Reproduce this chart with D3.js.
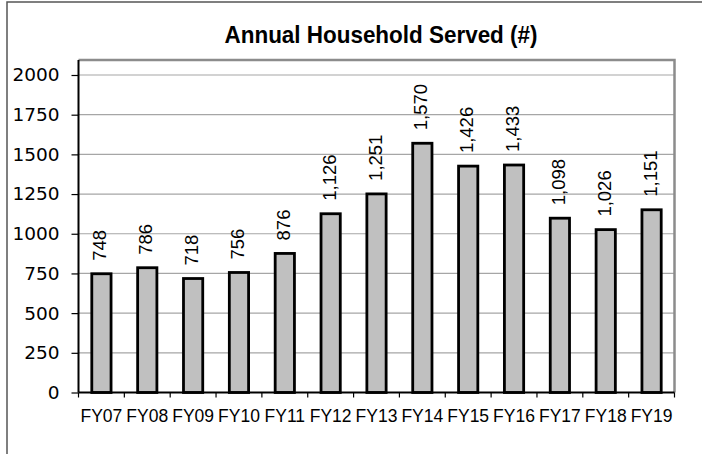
<!DOCTYPE html>
<html>
<head>
<meta charset="utf-8">
<script src="https://cdn.jsdelivr.net/npm/d3@7"></script>
<style>
  body { margin: 0; background: #fff; }
  svg { display: block; }
</style>
</head>
<body>
<svg id="chart" width="702" height="454"></svg>
<script>
// data
var years = ["FY07", "FY08", "FY09", "FY10", "FY11", "FY12", "FY13",
             "FY14", "FY15", "FY16", "FY17", "FY18", "FY19"];
var households = [748, 786, 718, 756, 876, 1126, 1251, 1570, 1426, 1433, 1098, 1026, 1151];
var yTicks = [0, 250, 500, 750, 1000, 1250, 1500, 1750, 2000];
var chartTitle = "Annual Household Served (#)";

(function(){
    var svg = d3.select("#chart");

    // plot area box
    var left = 78.5, right = 674.5, top = 60, bottom = 392.5;

    var x = d3.scaleBand()
        .domain(years)
        .range([left, right])
        .paddingInner(0.58)
        .paddingOuter(0.29);

    var y = d3.scaleLinear()
        .domain([0, 2000])
        .range([bottom, 75]);

    // outer chart frame (runs off the right/bottom of the crop)
    svg.append("rect")
        .attr("x", 7).attr("y", 2)
        .attr("width", 760).attr("height", 520)
        .style("fill", "none")
        .style("stroke", "#555")
        .style("stroke-width", 1.5);

    svg.append("text")
        .attr("x", 381).attr("y", 43)
        .attr("text-anchor", "middle")
        .style("font-family", "'Liberation Sans', Arial, sans-serif")
        .style("font-weight", "bold")
        .style("font-size", "24px")
        .attr("textLength", 313)
        .attr("lengthAdjust", "spacingAndGlyphs")
        .text(chartTitle);

    // gridlines
    svg.append("g")
        .selectAll("line")
        .data(yTicks.filter(function(d){ return d > 0; }))
        .enter().append("line")
        .attr("x1", left).attr("x2", right)
        .attr("y1", function(d){ return y(d); })
        .attr("y2", function(d){ return y(d); })
        .style("stroke", "#a6a6a6")
        .style("stroke-width", 1.2);

    // plot border, top and right are grey
    svg.append("path")
        .attr("d", "M" + left + "," + top + "H" + right + "V" + bottom)
        .style("fill", "none")
        .style("stroke", "#8c8c8c")
        .style("stroke-width", 2.5);

    // bars
    svg.append("g")
        .selectAll("rect")
        .data(households)
        .enter().append("rect")
        .attr("x", function(d, i){ return x(years[i]); })
        .attr("y", function(d){ return y(d); })
        .attr("width", x.bandwidth())
        .attr("height", function(d){ return y(0) - y(d); })
        .style("fill", "#c0c0c0")
        .style("stroke", "#000")
        .style("stroke-width", 2.8);

    // value labels, rotated
    var fmt = d3.format(",");
    svg.append("g")
        .selectAll("text")
        .data(households)
        .enter().append("text")
        .attr("transform", function(d, i){
            var cx = x(years[i]) + x.bandwidth() / 2;
            return "translate(" + cx + "," + (y(d) - 13) + ") rotate(-90)";
        })
        .attr("dy", 5)
        .style("font-family", "'Liberation Sans', Arial, sans-serif")
        .style("font-size", "18.5px")
        .text(function(d){ return fmt(d); });

    // y axis
    var yAxis = d3.axisLeft(y)
        .tickValues(yTicks)
        .tickSize(7)
        .tickPadding(12)
        .tickFormat(d3.format("d"));
    var gy = svg.append("g")
        .attr("transform", "translate(" + left + ",0)")
        .call(yAxis);
    gy.select(".domain").attr("d", "M0," + top + "V" + bottom)
        .style("stroke", "#000").style("stroke-width", 2);
    gy.selectAll(".tick line").style("stroke", "#000").style("stroke-width", 1.2);
    gy.selectAll(".tick text")
        .style("font-family", "'DejaVu Sans', sans-serif")
        .style("font-size", "18.5px")
        .style("fill", "#000");

    // x axis, ticks sit between categories
    var gx = svg.append("g")
        .attr("transform", "translate(0," + bottom + ")");
    gx.append("line")
        .attr("x1", left).attr("x2", right)
        .style("stroke", "#000").style("stroke-width", 2);
    gx.selectAll(".sep")
        .data(years.concat(["end"]))
        .enter().append("line")
        .attr("class", "sep")
        .attr("x1", function(d, i){ return left + i * x.step(); })
        .attr("x2", function(d, i){ return left + i * x.step(); })
        .attr("y1", 0).attr("y2", 5)
        .style("stroke", "#000").style("stroke-width", 1.2);
    gx.selectAll(".lbl")
        .data(years)
        .enter().append("text")
        .attr("class", "lbl")
        .attr("x", function(d){ return x(d) + x.bandwidth() / 2; })
        .attr("y", 29)
        .attr("text-anchor", "middle")
        .style("font-family", "'Liberation Sans', Arial, sans-serif")
        .style("font-size", "17.5px")
        .text(function(d){ return d; });
})();
</script>
</body>
</html>
